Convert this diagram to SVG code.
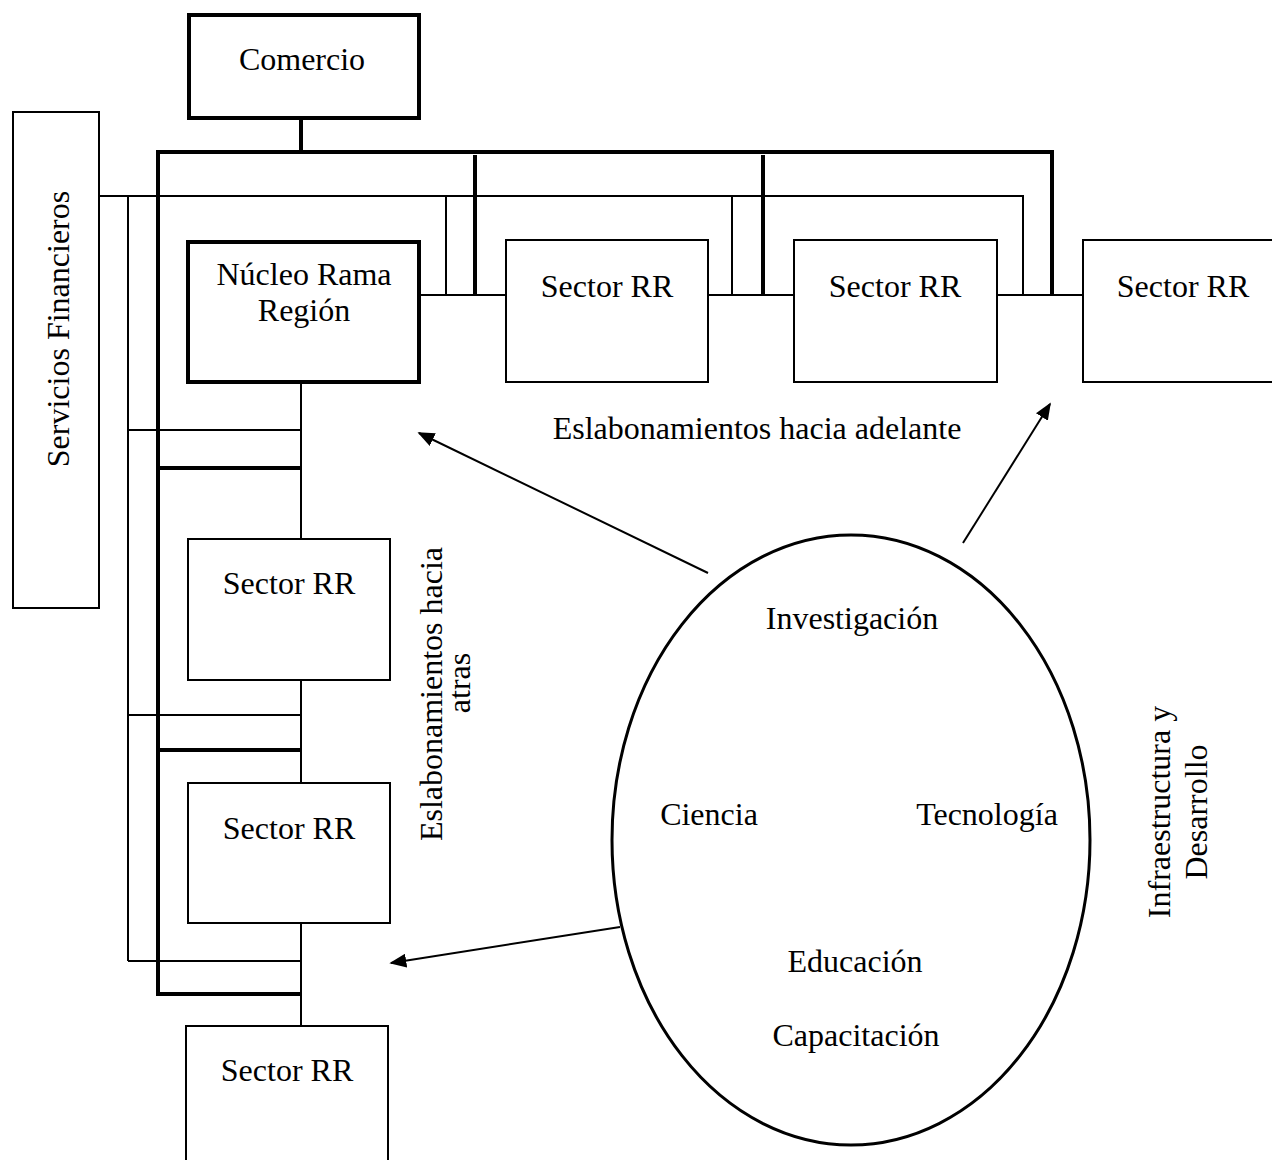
<svg xmlns="http://www.w3.org/2000/svg" width="1272" height="1160" viewBox="0 0 1272 1160">
<style>
text{font-family:"Liberation Serif","Times New Roman",serif;font-size:32px;fill:#000;text-anchor:middle}
.thin{stroke:#000;stroke-width:2;fill:none}
.thick{stroke:#000;stroke-width:4;fill:none}
.box{fill:#fff;stroke:#000;stroke-width:2}
.boxb{fill:#fff;stroke:#000;stroke-width:4}
.arr{stroke:#000;stroke-width:2;fill:none;marker-end:url(#ah)}
</style>
<defs>
<marker id="ah" viewBox="0 0 10 10" refX="9" refY="5" markerWidth="17" markerHeight="14" markerUnits="userSpaceOnUse" orient="auto" preserveAspectRatio="none">
<path d="M0,0 L10,5 L0,10 z" fill="#000"/>
</marker>
</defs>
<rect width="1272" height="1160" fill="#fff"/>
<g id="connectors">
<line class="thick" x1="301" y1="118" x2="301" y2="152"/>
<polyline class="thick" points="158,996 158,152 1052,152 1052,295"/>
<line class="thick" x1="475" y1="155" x2="475" y2="295"/>
<line class="thick" x1="763" y1="155" x2="763" y2="295"/>
<polyline class="thin" points="99,196 1023,196 1023,295"/>
<line class="thin" x1="128" y1="196" x2="128" y2="961"/>
<line class="thin" x1="446" y1="196" x2="446" y2="295"/>
<line class="thin" x1="732" y1="196" x2="732" y2="295"/>
<line class="thin" x1="420" y1="295" x2="506" y2="295"/>
<line class="thin" x1="708" y1="295" x2="794" y2="295"/>
<line class="thin" x1="997" y1="295" x2="1083" y2="295"/>
<line class="thin" x1="301" y1="382" x2="301" y2="1026"/>
<line class="thin" x1="128" y1="430" x2="301" y2="430"/>
<line class="thick" x1="158" y1="468" x2="301" y2="468"/>
<line class="thin" x1="128" y1="715" x2="301" y2="715"/>
<line class="thick" x1="158" y1="750" x2="301" y2="750"/>
<line class="thin" x1="128" y1="961" x2="301" y2="961"/>
<line class="thick" x1="156" y1="994" x2="301" y2="994"/>
<line class="arr" x1="708" y1="573" x2="419" y2="433"/>
<line class="arr" x1="963" y1="543" x2="1050" y2="404"/>
<line class="arr" x1="620" y1="927" x2="391" y2="963"/>
</g>
<g id="comercio">
<rect class="boxb" x="189" y="15" width="230" height="103"/>
<text x="302" y="70">Comercio</text>
</g>
<g id="servicios">
<rect class="box" x="13" y="112" width="86" height="496"/>
<text transform="translate(69,329) rotate(-90)">Servicios Financieros</text>
</g>
<g id="nucleo">
<rect class="boxb" x="188" y="242" width="231" height="140"/>
<text x="304" y="285">Núcleo Rama</text>
<text x="304" y="321">Región</text>
</g>
<g id="sector1">
<rect class="box" x="506" y="240" width="202" height="142"/>
<text x="607" y="297">Sector RR</text>
</g>
<g id="sector2">
<rect class="box" x="794" y="240" width="203" height="142"/>
<text x="895" y="297">Sector RR</text>
</g>
<g id="sector3">
<rect class="box" x="1083" y="240" width="200" height="142"/>
<text x="1183" y="297">Sector RR</text>
</g>
<g id="sector4">
<rect class="box" x="188" y="539" width="202" height="141"/>
<text x="289" y="594">Sector RR</text>
</g>
<g id="sector5">
<rect class="box" x="188" y="783" width="202" height="140"/>
<text x="289" y="839">Sector RR</text>
</g>
<g id="sector6">
<rect class="box" x="186" y="1026" width="202" height="150"/>
<text x="287" y="1081">Sector RR</text>
</g>
<g id="label-adelante">
<text x="757" y="439">Eslabonamientos hacia adelante</text>
</g>
<g id="label-atras">
<text transform="translate(442,694) rotate(-90)">Eslabonamientos hacia</text>
<text transform="translate(470,683) rotate(-90)">atras</text>
</g>
<g id="infraestructura">
<ellipse cx="851" cy="840" rx="239" ry="305" fill="none" stroke="#000" stroke-width="3"/>
<text x="852" y="629">Investigación</text>
<text x="709" y="825">Ciencia</text>
<text x="987" y="825">Tecnología</text>
<text x="855" y="972">Educación</text>
<text x="856" y="1046">Capacitación</text>
</g>
<g id="label-infra">
<text transform="translate(1170,812) rotate(-90)">Infraestructura y</text>
<text transform="translate(1207,812) rotate(-90)">Desarrollo</text>
</g>
</svg>
